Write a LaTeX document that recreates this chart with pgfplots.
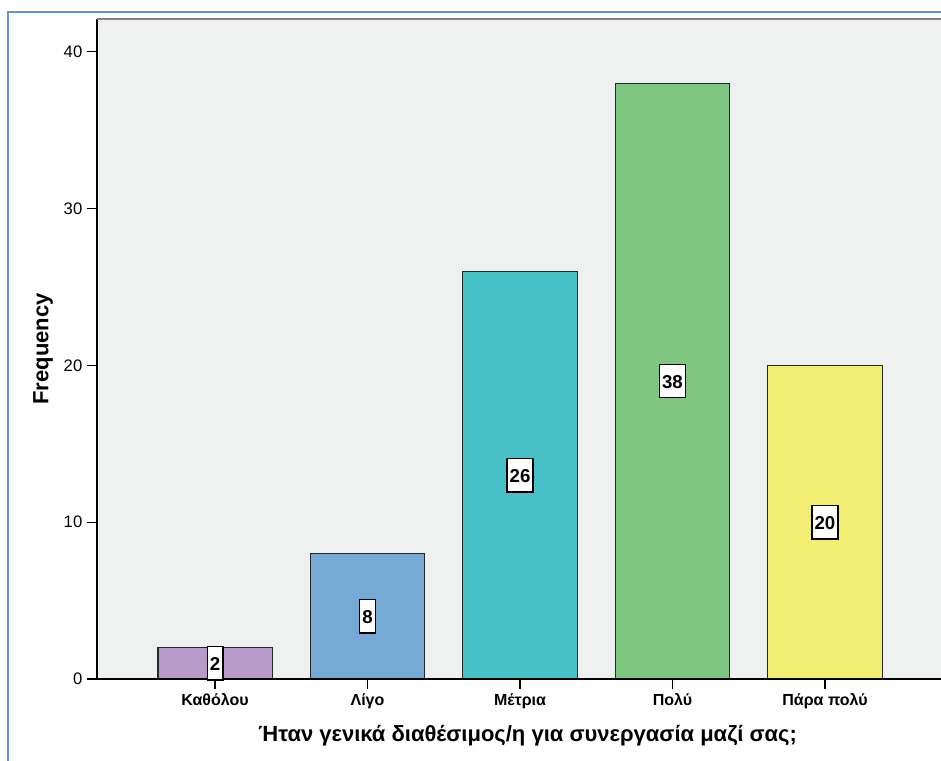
\documentclass[border=0pt]{standalone}
\usepackage{pgfplots}
\pgfplotsset{compat=1.18}
\usepackage{fontspec}
\setmainfont{Liberation Sans}
\definecolor{bgc}{RGB}{239,240,240}
\definecolor{framec}{RGB}{100,146,208}
\definecolor{topc}{RGB}{130,130,130}
\definecolor{cpurple}{RGB}{184,154,200}
\definecolor{cblue}{RGB}{118,169,212}
\definecolor{cteal}{RGB}{72,193,198}
\definecolor{cgreen}{RGB}{126,198,129}
\definecolor{cyellow}{RGB}{242,238,116}
\definecolor{edgec}{RGB}{40,40,40}
\begin{document}
\begin{tikzpicture}
\useasboundingbox (0,0) rectangle (705.75pt,570pt);
\fill[white] (0,0) rectangle (705.75pt,570pt);
\begin{axis}[
  at={(72.75pt,60.75pt)}, anchor=south west,
  scale only axis, width=634.5pt, height=495pt,
  xmin=-0.774, xmax=4.774, ymin=0, ymax=42.1,
  clip=false,
  axis background/.style={fill=bgc},
  axis x line*=bottom, axis y line*=left,
  axis line style={-, black, line width=1.1pt},
  tick align=outside, major tick length=7.5pt,
  tick style={black, line width=0.8pt},
  xtick={0,1,2,3,4},
  xticklabels={Καθόλου,Λίγο,Μέτρια,Πολύ,Πάρα πολύ},
  ytick={0,10,20,30,40},
  /pgf/number format/assume math mode=true,
  yticklabel style={font=\fontsize{12.5}{14}\selectfont},
  xticklabel style={font=\bfseries\fontsize{12}{14}\selectfont},
  ylabel style={at={(axis description cs:-0.0638,0.5)}, anchor=center, rotate=0},
  xlabel style={at={(axis description cs:0.509,-0.0866)}, anchor=center},
  ylabel={\bfseries\fontsize{16.5}{18}\selectfont Frequency},
  xlabel={\bfseries\fontsize{16.5}{18}\selectfont Ήταν γενικά διαθέσιμος/η για συνεργασία μαζί σας;},
]
\addplot[ybar, bar width=0.75, fill=cpurple, draw=edgec, line width=1pt] coordinates {(0,2)};
\addplot[ybar, bar width=0.75, fill=cblue, draw=edgec, line width=1pt] coordinates {(1,8)};
\addplot[ybar, bar width=0.75, fill=cteal, draw=edgec, line width=1pt] coordinates {(2,26)};
\addplot[ybar, bar width=0.75, fill=cgreen, draw=edgec, line width=1pt] coordinates {(3,38)};
\addplot[ybar, bar width=0.75, fill=cyellow, draw=edgec, line width=1pt] coordinates {(4,20)};
\draw[topc, line width=1.5pt] (rel axis cs:0,1) -- (rel axis cs:1,1);
\draw[black, line width=1.1pt] (rel axis cs:0,0) -- (rel axis cs:1,0);
\addplot[draw=none, mark=none, nodes near coords, point meta=explicit symbolic,
  every node near coord/.append style={anchor=center, fill=white, draw=black, line width=1pt,
    font=\bfseries\fontsize{14}{16}\selectfont, inner xsep=2pt, inner ysep=7pt,
    text height=11pt, text depth=0pt}]
  table[x=x, y=y, meta=lab] {
x y lab
0 1 2
1 4 8
2 13 26
3 19 38
4 10 20
};
\end{axis}
\draw[framec, line width=1.3pt] (6pt,-10pt) rectangle (720pt,561pt);
\end{tikzpicture}
\end{document}
